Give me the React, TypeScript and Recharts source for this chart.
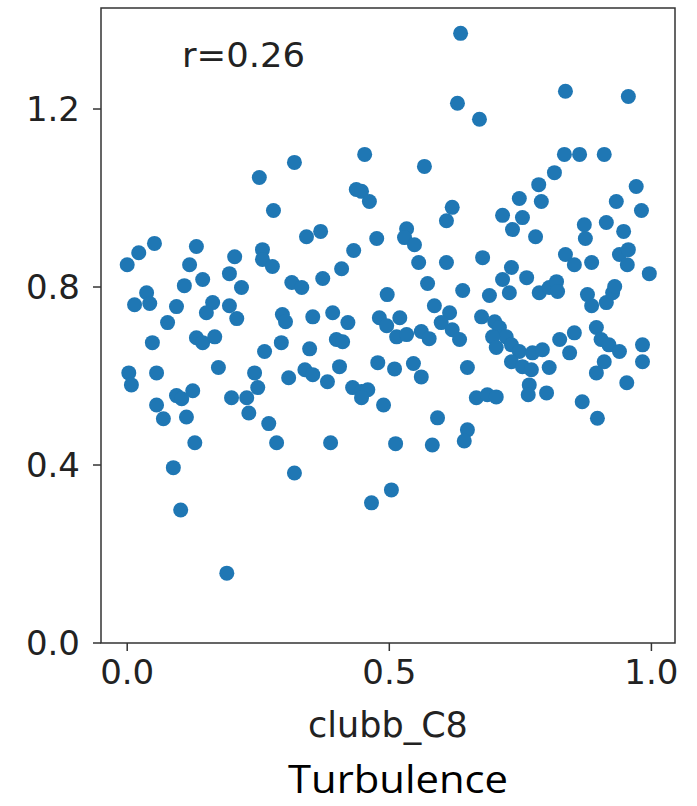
import { ScatterChart, Scatter, XAxis, YAxis, ReferenceArea } from 'recharts';

// clubb_C8 value vs. correlation metric
const samples: [number, number][] = [
  [0.319, 1.080], [0.252, 1.046], [0.279, 0.972], [0.052, 0.898], [0.132, 0.891],
  [0.022, 0.877], [0.000, 0.850], [0.119, 0.850], [0.258, 0.884], [0.205, 0.868],
  [0.258, 0.862], [0.277, 0.846], [0.195, 0.830], [0.144, 0.817], [0.109, 0.803],
  [0.218, 0.799], [0.314, 0.810], [0.037, 0.787], [0.014, 0.760], [0.043, 0.763],
  [0.094, 0.756], [0.163, 0.765], [0.151, 0.742], [0.195, 0.758], [0.209, 0.729],
  [0.296, 0.738], [0.302, 0.722], [0.077, 0.720], [0.048, 0.675], [0.132, 0.686],
  [0.144, 0.675], [0.167, 0.688], [0.294, 0.675], [0.262, 0.655], [0.174, 0.619],
  [0.003, 0.607], [0.056, 0.607], [0.008, 0.580], [0.243, 0.607], [0.308, 0.596],
  [0.094, 0.556], [0.125, 0.567], [0.104, 0.549], [0.056, 0.535], [0.199, 0.551],
  [0.228, 0.551], [0.249, 0.574], [0.069, 0.504], [0.113, 0.508], [0.232, 0.517],
  [0.270, 0.493], [0.129, 0.450], [0.285, 0.450], [0.088, 0.394], [0.319, 0.382],
  [0.102, 0.299], [0.190, 0.157],
  [0.636, 1.370], [0.630, 1.213], [0.672, 1.177], [0.453, 1.098], [0.567, 1.071],
  [0.437, 1.019], [0.447, 1.015], [0.462, 0.992], [0.620, 0.979], [0.609, 0.949],
  [0.342, 0.913], [0.369, 0.925], [0.476, 0.909], [0.533, 0.931], [0.529, 0.911],
  [0.548, 0.895], [0.432, 0.882], [0.409, 0.841], [0.373, 0.819], [0.556, 0.855],
  [0.609, 0.855], [0.678, 0.866], [0.333, 0.799], [0.496, 0.783], [0.573, 0.808],
  [0.640, 0.792], [0.691, 0.781], [0.586, 0.758], [0.615, 0.742], [0.676, 0.733],
  [0.354, 0.733], [0.392, 0.742], [0.421, 0.720], [0.481, 0.731], [0.495, 0.713],
  [0.520, 0.731], [0.514, 0.688], [0.533, 0.693], [0.561, 0.700], [0.576, 0.684],
  [0.599, 0.720], [0.620, 0.704], [0.634, 0.682], [0.399, 0.682], [0.411, 0.677],
  [0.348, 0.661], [0.339, 0.614], [0.354, 0.603], [0.382, 0.587], [0.405, 0.621],
  [0.430, 0.574], [0.447, 0.565], [0.459, 0.569], [0.447, 0.551], [0.478, 0.630],
  [0.510, 0.616], [0.546, 0.628], [0.561, 0.598], [0.489, 0.535], [0.649, 0.619],
  [0.666, 0.551], [0.687, 0.558], [0.592, 0.506], [0.649, 0.479], [0.643, 0.454],
  [0.388, 0.450], [0.512, 0.448], [0.582, 0.445], [0.504, 0.344], [0.466, 0.315],
  [0.836, 1.240], [0.956, 1.228], [0.834, 1.098], [0.863, 1.098], [0.910, 1.098],
  [0.815, 1.057], [0.785, 1.030], [0.971, 1.026], [0.748, 0.999], [0.790, 0.992],
  [0.933, 0.992], [0.981, 0.972], [0.716, 0.961], [0.754, 0.956], [0.735, 0.929],
  [0.779, 0.913], [0.872, 0.940], [0.874, 0.909], [0.914, 0.945], [0.947, 0.925],
  [0.836, 0.873], [0.853, 0.850], [0.886, 0.855], [0.939, 0.873], [0.956, 0.884],
  [0.954, 0.850], [0.996, 0.830], [0.733, 0.844], [0.762, 0.821], [0.716, 0.817],
  [0.729, 0.787], [0.786, 0.787], [0.805, 0.799], [0.819, 0.812], [0.821, 0.790],
  [0.878, 0.783], [0.886, 0.758], [0.914, 0.765], [0.926, 0.787], [0.930, 0.801],
  [0.701, 0.722], [0.710, 0.709], [0.723, 0.688], [0.697, 0.688], [0.704, 0.664],
  [0.733, 0.670], [0.748, 0.655], [0.773, 0.652], [0.792, 0.659], [0.825, 0.682],
  [0.853, 0.697], [0.844, 0.652], [0.895, 0.709], [0.904, 0.682], [0.919, 0.670],
  [0.939, 0.655], [0.983, 0.670], [0.983, 0.632], [0.733, 0.632], [0.754, 0.621],
  [0.771, 0.614], [0.805, 0.619], [0.910, 0.632], [0.895, 0.607], [0.953, 0.585],
  [0.704, 0.553], [0.767, 0.580], [0.765, 0.558], [0.800, 0.562], [0.868, 0.542],
  [0.897, 0.505],
];

const xTicks = [0, 0.5, 1.0];
const yTicks = [0, 0.4, 0.8, 1.2];
const xDomain = [-0.05, 1.045];
const yDomain = [0, 1.427];
const xLabel = 'clubb_C8';
const annotation = 'r=0.26';
const title = 'Turbulence';

const data = samples.map(([x, y]) => ({ x, y }));

const tickFont = { fontFamily: 'DejaVu Sans', fontSize: 34, fill: '#222' };

const Dot = (props: any) => <circle cx={props.cx} cy={props.cy} r={7.5} fill="#1f77b4" />;

export default function App() {
  return (
    <div style={{ position: 'absolute', left: 0, top: 0, width: 697, height: 806, background: '#fff' }}>
      <ScatterChart width={697} height={806} margin={{ top: 8, right: 22, bottom: 63, left: 0 }}>
        <XAxis
          type="number"
          dataKey="x"
          domain={xDomain}
          allowDataOverflow
          ticks={xTicks}
          tickFormatter={(v: number) => v.toFixed(1)}
          tick={tickFont}
          tickSize={8}
          tickMargin={9}
          tickLine={{ stroke: '#333', strokeWidth: 1.5 }}
          axisLine={false}
          height={100}
          label={{ value: xLabel, position: 'insideBottom', offset: 6, style: { fontFamily: 'DejaVu Sans', fontSize: 35, fill: '#222' } }}
        />
        <YAxis
          type="number"
          dataKey="y"
          domain={yDomain}
          allowDataOverflow
          ticks={yTicks}
          tickFormatter={(v: number) => v.toFixed(1)}
          tick={tickFont}
          tickSize={8}
          tickMargin={13}
          tickLine={{ stroke: '#333', strokeWidth: 1.5 }}
          axisLine={false}
          width={101}
        />
        <Scatter data={data} shape={Dot} isAnimationActive={false} />
        <ReferenceArea x1={xDomain[0]} x2={xDomain[1]} y1={yDomain[0]} y2={yDomain[1]} fill="none" stroke="#333" strokeWidth={1.5} ifOverflow="visible" />
      </ScatterChart>
      <svg width={697} height={806} style={{ position: 'absolute', left: 0, top: 0, pointerEvents: 'none' }}>
        <text x={182} y={67} fontFamily="DejaVu Sans" fontSize={33} fill="#222" textLength={123} lengthAdjust="spacingAndGlyphs">{annotation}</text>
        <text x={288} y={793} fontFamily="Open Sans" fontSize={38} fill="#000" textLength={220} lengthAdjust="spacingAndGlyphs">{title}</text>
      </svg>
    </div>
  );
}
